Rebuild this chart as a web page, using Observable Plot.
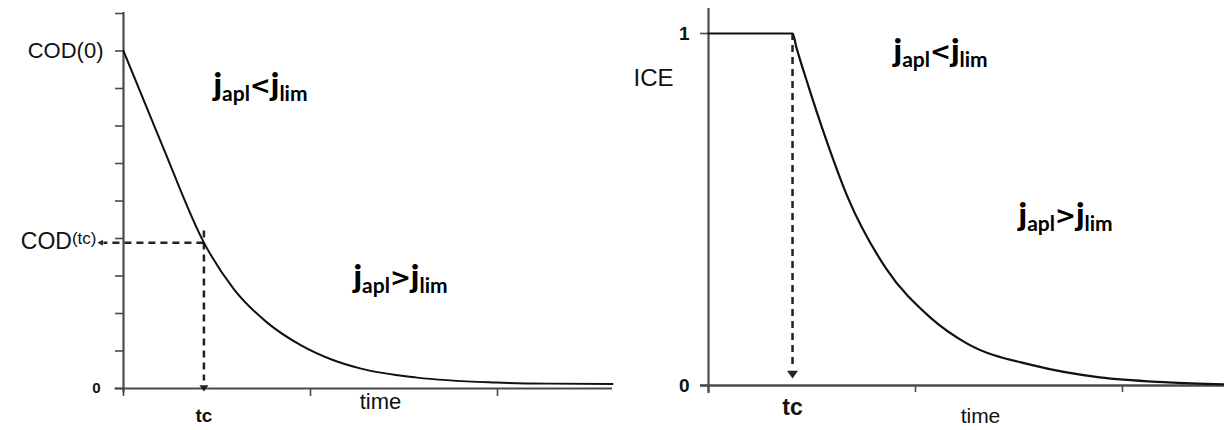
<!DOCTYPE html>
<html><head><meta charset="utf-8">
<script src="https://cdn.jsdelivr.net/npm/d3@7"></script>
<script src="https://cdn.jsdelivr.net/npm/@observablehq/plot@0.6"></script>
<style>
body{margin:0;background:#fff;}
#wrap{display:flex;width:1224px;height:430px;}
</style></head><body><div id="wrap"></div>
<script>
// ---------- Left panel: COD vs time ----------
const codTime  = [0, 0.21, 0.43, 0.59, 0.77, 0.95, 1.12, 1.27, 1.57, 1.99, 2.28, 2.615];
const codValue = [9.0, 6.45, 3.89, 2.65, 1.75, 1.15, 0.76, 0.53, 0.29, 0.16, 0.13, 0.12];
const codTc = 0.43;
const codAtTc = 3.89;
const codYTicks = [0,1,2,3,4,5,6,7,8,9,10];
const codXTicks = [0,1,2];
const codYLabelText = ["COD(0)", "0"];
const codYLabelValue = [9, 0];
const codRegimeText = ["japl<jlim", "japl>jlim"];
const codRegimeTime = [0.481, 1.23];
const codRegimeValue = [7.79, 2.67];
const codTimeLabelAt = 1.374;

// ---------- Right panel: ICE vs time ----------
const iceTime  = [0, 0.406, 0.425, 0.483, 0.556, 0.676, 0.855, 1.072, 1.25, 1.57, 1.89, 2.22, 2.493];
const iceValue = [1, 1, 0.96, 0.85, 0.72, 0.53, 0.335, 0.193, 0.119, 0.057, 0.023, 0.009, 0.003];
const iceTc = 0.406;
const iceYTicks = [0, 1];
const iceXTicks = [0, 1, 2];
const iceYLabelText = ["1", "0"];
const iceYLabelValue = [1, 0];
const iceRegimeText = ["japl<jlim", "japl>jlim"];
const iceRegimeTime = [0.894, 1.498];
const iceRegimeValue = [0.920, 0.452];
const iceTitleValue = 0.872;
const iceTimeLabelAt = 1.314;

const AX = "#4a4a4a", INK = "#111";
const sans = "'Liberation Sans', Arial, sans-serif";
const bold = "Lato, 'Open Sans', sans-serif";

// custom arrowhead symbols (tip at origin)
function rr(size){ return Math.sqrt(size/Math.PI); }
const triDown = {draw(c, size){ const r = rr(size); c.moveTo(0,0); c.lineTo(-r, -r*1.4); c.lineTo(r, -r*1.4); c.closePath(); }};
const triLeft = {draw(c, size){ const r = rr(size); c.moveTo(0,0); c.lineTo(r*1.8, -r); c.lineTo(r*1.8, r); c.closePath(); }};

const codLine = codTime.map((t,i)=>({t, v: codValue[i]}));
const iceLine = iceTime.map((t,i)=>({t, v: iceValue[i]}));
const dash = {stroke: "#222", strokeWidth: 2.5, strokeDasharray: "7,5"};

const left = Plot.plot({
  width: 612, height: 430,
  marginLeft: 123, marginRight: 0, marginTop: 13, marginBottom: 42,
  x: {domain: [0, 2.615]},
  y: {domain: [0, 10]},
  style: {background: "transparent", overflow: "visible"},
  marks: [
    Plot.axisY(codYTicks, {tickSize: 8, tickFormat: () => "", label: null, stroke: AX, strokeWidth: 1.6}),
    Plot.axisX(codXTicks, {tickSize: 8, tickFormat: () => "", label: null, stroke: AX, strokeWidth: 1.6}),
    Plot.ruleY([0], {x1: -0.045, x2: 2.615, stroke: AX, strokeWidth: 2.2}),
    Plot.ruleX([0], {y1: -0.12, y2: 10.03, stroke: AX, strokeWidth: 2.2}),
    Plot.ruleX([codTc], {y1: 4.2, y2: 0.2, ...dash}),
    Plot.ruleY([codAtTc], {x1: codTc, x2: -0.105, ...dash}),
    Plot.dot([{t: codTc, v: 0}], {x: "t", y: "v", symbol: triDown, r: 4.5, dy: 3, fill: "#222", stroke: null}),
    Plot.dot([{t: 0, v: codAtTc}], {x: "t", y: "v", symbol: triLeft, r: 3, dx: -26, fill: "#222", stroke: null}),
    Plot.line(codLine, {x: "t", y: "v", curve: "monotone-x", stroke: INK, strokeWidth: 2}),
    Plot.text(codYLabelText.map((s,i)=>({s, v: codYLabelValue[i]})).slice(0,1), {x: () => 0, y: "v", text: "s", textAnchor: "end", dx: -20, fontSize: 22, fontFamily: sans, fill: INK}),
    Plot.text(codYLabelText.map((s,i)=>({s, v: codYLabelValue[i]})).slice(1), {x: () => 0, y: "v", text: "s", textAnchor: "end", dx: -23, fontSize: 15, fontWeight: "bold", fontFamily: sans, fill: INK}),
    Plot.text([{s: "COD(tc)", v: codAtTc}], {x: () => 0, y: "v", text: "s", textAnchor: "end", dx: -27, dy: -1, fontSize: 22, fontFamily: sans, fill: INK}),
    Plot.text([{s: "tc", t: codTc}], {x: "t", y: () => 0, text: "s", dy: 27, fontSize: 19, fontWeight: "bold", fontFamily: sans, fill: INK}),
    Plot.text([{s: "time", t: codTimeLabelAt}], {x: "t", y: () => 0, text: "s", dy: 13, fontSize: 22, fontFamily: sans, fill: INK}),
    Plot.text(codRegimeText.map((s,i)=>({s, t: codRegimeTime[i], v: codRegimeValue[i]})), {x: "t", y: "v", text: "s", textAnchor: "start", lineAnchor: "bottom", fontFamily: bold, fontWeight: 900, fill: "#000"})
  ]
});

const right = Plot.plot({
  width: 612, height: 430,
  marginLeft: 96, marginRight: 0, marginTop: 33, marginBottom: 45,
  x: {domain: [0, 2.493]},
  y: {domain: [0, 1]},
  style: {background: "transparent", overflow: "visible"},
  marks: [
    Plot.axisY(iceYTicks, {tickSize: 8, tickFormat: () => "", label: null, stroke: AX, strokeWidth: 1.6}),
    Plot.axisX(iceXTicks, {tickSize: 7, tickFormat: () => "", label: null, stroke: AX, strokeWidth: 1.6}),
    Plot.ruleY([0], {x1: -0.039, x2: 2.493, stroke: AX, strokeWidth: 2.4}),
    Plot.ruleX([0], {y1: -0.023, y2: 1.071, stroke: AX, strokeWidth: 2.2}),
    Plot.ruleX([iceTc], {y1: 1, y2: 0.06, ...dash}),
    Plot.dot([{t: iceTc, v: 0}], {x: "t", y: "v", symbol: triDown, r: 5.5, dy: -7, fill: "#222", stroke: null}),
    Plot.line(iceLine, {x: "t", y: "v", curve: "monotone-x", stroke: INK, strokeWidth: 2.2}),
    Plot.text(iceYLabelText.map((s,i)=>({s, v: iceYLabelValue[i]})), {x: () => 0, y: "v", text: "s", textAnchor: "end", dx: -19, fontSize: 19, fontWeight: "bold", fontFamily: sans, fill: INK}),
    Plot.text([{s: "ICE", v: iceTitleValue}], {x: () => 0, y: "v", text: "s", textAnchor: "end", dx: -35, fontSize: 24, fontFamily: sans, fill: INK}),
    Plot.text([{s: "tc", t: iceTc}], {x: "t", y: () => 0, text: "s", dy: 22, fontSize: 23, fontWeight: "bold", fontFamily: sans, fill: INK}),
    Plot.text([{s: "time", t: iceTimeLabelAt}], {x: "t", y: () => 0, text: "s", dy: 31, fontSize: 21, fontFamily: sans, fill: INK}),
    Plot.text(iceRegimeText.map((s,i)=>({s, t: iceRegimeTime[i], v: iceRegimeValue[i]})), {x: "t", y: "v", text: "s", textAnchor: "start", lineAnchor: "bottom", fontFamily: bold, fontWeight: 900, fill: "#000"})
  ]
});

// rich text: subscripts / small parts
function enrich(svg){
  d3.select(svg).selectAll("text").each(function(){
    const s = this.textContent;
    let m = s.match(/^(j)(apl)([<>])(j)(lim)$/);
    const el = d3.select(this);
    if (m) {
      el.text(null);
      el.append("tspan").attr("font-size", 33).text("j");
      el.append("tspan").attr("font-size", 21).attr("font-weight", 700).attr("dy", 5).text("apl");
      el.append("tspan").attr("font-size", 25).attr("font-family", "'DejaVu Sans'").attr("font-weight", 700).attr("dy", -7).text(m[3]);
      el.append("tspan").attr("font-size", 33).attr("dy", 2).text("j");
      el.append("tspan").attr("font-size", 21).attr("font-weight", 700).attr("dy", 5).text("lim");
      return;
    }
    m = s.match(/^(COD)(\(tc\))$/);
    if (m) {
      el.text(null);
      el.append("tspan").attr("font-size", 23).text("COD");
      el.append("tspan").attr("font-size", 17).attr("dy", -5).text("(tc)");
    }
  });
}
enrich(left); enrich(right);
document.getElementById("wrap").append(left, right);
</script></body></html>
